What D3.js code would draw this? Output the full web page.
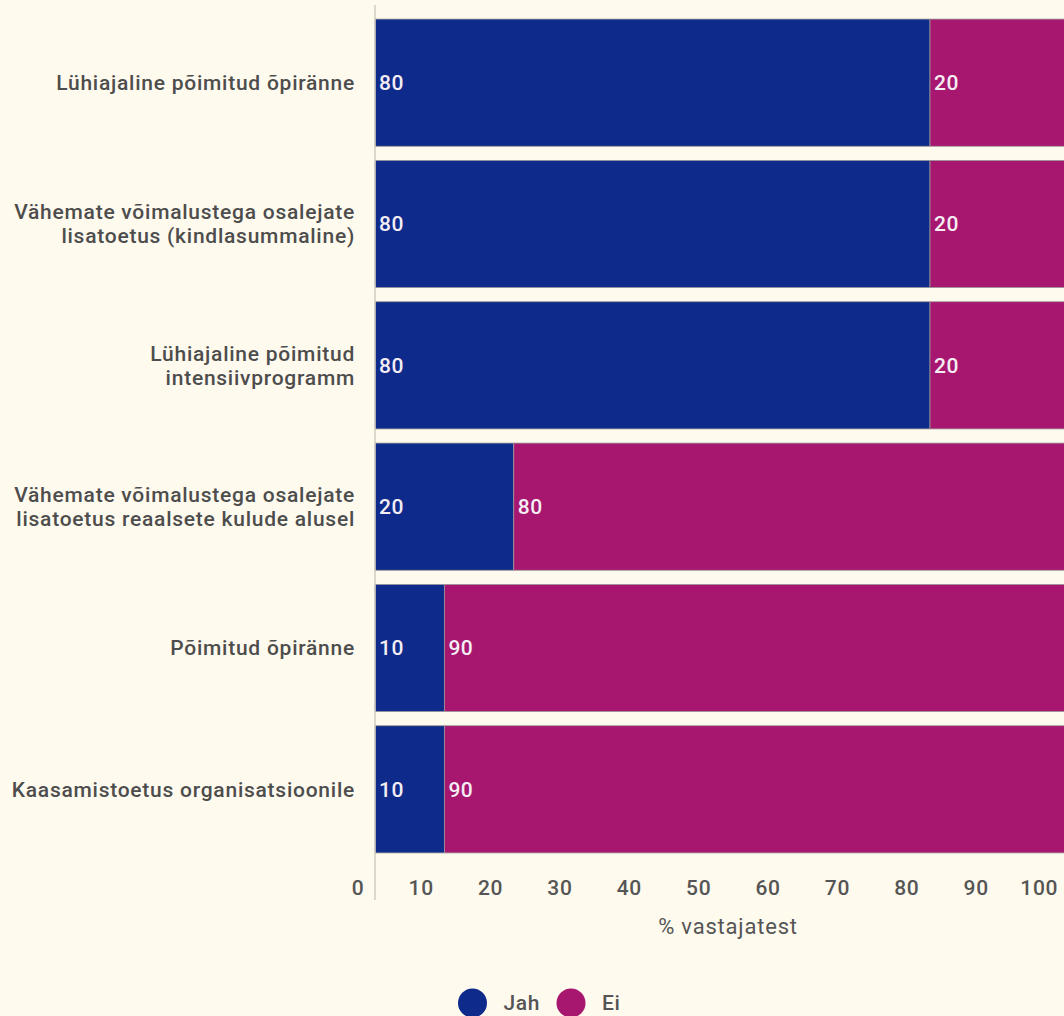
<!DOCTYPE html>
<html>
<head>
<meta charset="utf-8">
<script src="https://cdn.jsdelivr.net/npm/d3@7"></script>
<style>
  html, body { margin: 0; padding: 0; background: #fffaee; }
  svg { display: block; font-family: Roboto, "Noto Sans", sans-serif; }
</style>
</head>
<body>
<svg id="chart" width="1064" height="1016"></svg>
<script>
const categories = [
  ["Lühiajaline põimitud õpiränne"],
  ["Vähemate võimalustega osalejate", "lisatoetus (kindlasummaline)"],
  ["Lühiajaline põimitud", "intensiivprogramm"],
  ["Vähemate võimalustega osalejate", "lisatoetus reaalsete kulude alusel"],
  ["Põimitud õpiränne"],
  ["Kaasamistoetus organisatsioonile"]
];
const jahValues = [80, 80, 80, 20, 10, 10];
const eiValues  = [20, 20, 20, 80, 90, 90];
const seriesNames = ["Jah", "Ei"];
const seriesColors = ["#0e2a8b", "#a8176f"];
const tickValues = [0, 10, 20, 30, 40, 50, 60, 70, 80, 90, 100];
const axisTitle = "% vastajatest";

const svg = d3.select("#chart");
const x = d3.scaleLinear().domain([0, 100]).range([375, 1068.75]);
const y = d3.scaleBand().domain(d3.range(categories.length)).range([12, 860])
  .paddingInner(0.1).paddingOuter(0.05);

const rows = categories.map((c, i) => ({ i, vals: [jahValues[i], eiValues[i]] }));

// bars
const g = svg.append("g");
rows.forEach(r => {
  let acc = 0;
  r.vals.forEach((v, s) => {
    g.append("rect")
      .attr("x", x(acc))
      .attr("y", y(r.i))
      .attr("width", x(acc + v) - x(acc))
      .attr("height", y.bandwidth())
      .attr("fill", seriesColors[s])
      .attr("stroke", "#9a9a9a")
      .attr("stroke-width", 0.8);
    g.append("text")
      .attr("x", x(acc) + 4)
      .attr("y", y(r.i) + y.bandwidth() / 2)
      .attr("dy", "0.35em")
      .attr("fill", "#f4eef4")
      .attr("font-size", 21)
      .attr("letter-spacing", 0.5)
      .attr("font-weight", 500)
      .text(v);
    acc += v;
  });
});

// vertical axis line
svg.append("line")
  .attr("x1", x(0)).attr("x2", x(0))
  .attr("y1", 5).attr("y2", 900)
  .attr("stroke", "#d0ccc0").attr("stroke-width", 1.5);

// category labels
rows.forEach(r => {
  const lines = categories[r.i];
  const cy = y(r.i) + y.bandwidth() / 2;
  const lh = 24;
  const t = svg.append("text")
    .attr("text-anchor", "end")
    .attr("fill", "#4d4d4d")
    .attr("font-size", 21)
    .attr("letter-spacing", 0.75)
    .attr("font-weight", 500);
  lines.forEach((ln, k) => {
    t.append("tspan")
      .attr("x", x(0) - 20)
      .attr("y", cy + (k - (lines.length - 1) / 2) * lh)
      .attr("dy", "0.35em")
      .text(ln);
  });
});

// x axis
const ax = svg.append("g")
  .attr("transform", "translate(0,880)")
  .call(d3.axisBottom(x).tickValues(tickValues).tickSize(0).tickFormat(d3.format("d")));
ax.select(".domain").remove();
ax.selectAll("text")
  .attr("text-anchor", "end")
  .attr("dx", -11)
  .attr("y", 0)
  .attr("dy", "0.71em")
  .attr("fill", "#555")
  .attr("font-size", 21)
  .attr("letter-spacing", 0.7)
  .attr("font-weight", 500)
  .attr("font-family", "Roboto, sans-serif");

svg.append("text")
  .attr("x", 728).attr("y", 926)
  .attr("dy", "0.35em")
  .attr("text-anchor", "middle")
  .attr("fill", "#555")
  .attr("font-size", 22)
  .attr("letter-spacing", 0.8)
  .text(axisTitle);

// legend
const legendX = [472.5, 571];
seriesNames.forEach((n, s) => {
  svg.append("circle")
    .attr("cx", legendX[s]).attr("cy", 1003).attr("r", 14.5)
    .attr("fill", seriesColors[s]);
  svg.append("text")
    .attr("x", legendX[s] + 31).attr("y", 1003)
    .attr("dy", "0.35em")
    .attr("fill", "#555")
    .attr("font-size", 21)
    .attr("letter-spacing", 0.6)
    .attr("font-weight", 500)
    .text(n);
});
</script>
</body>
</html>
